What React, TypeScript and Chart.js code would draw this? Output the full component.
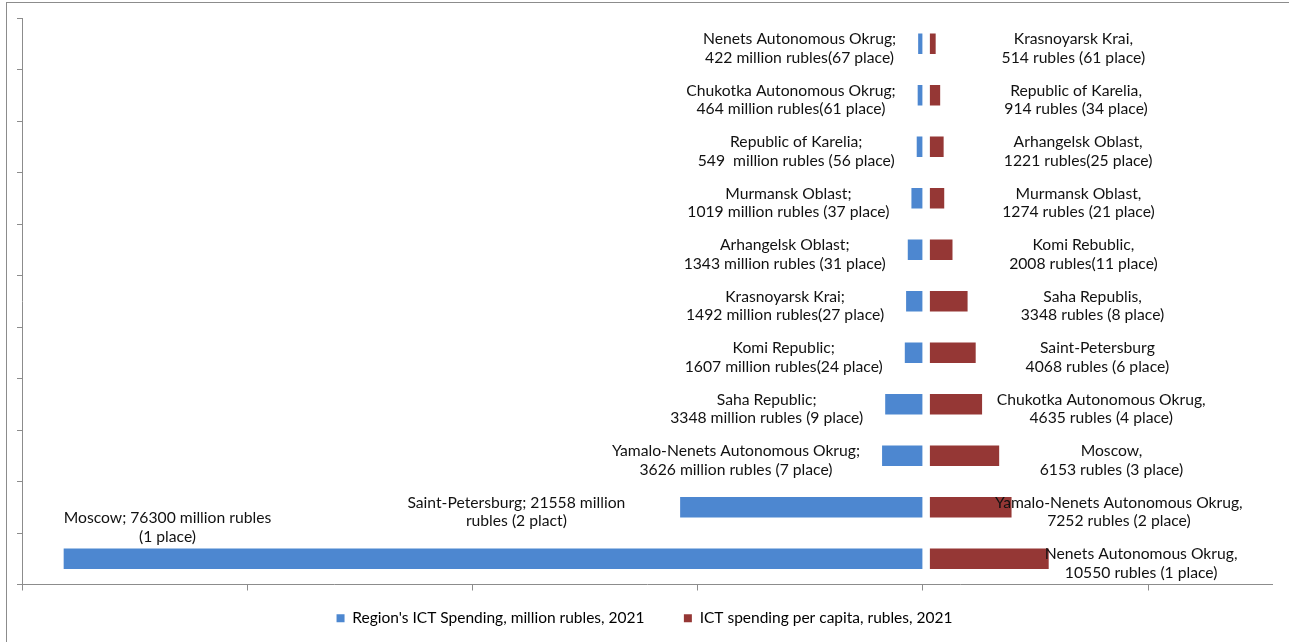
import React, { useEffect, useRef } from 'react';
import { Chart, registerables } from 'chart.js';

Chart.register(...registerables);

// ---------- data ----------
const spendRegions = [
  'Nenets Autonomous Okrug',
  'Chukotka Autonomous Okrug',
  'Republic of Karelia',
  'Murmansk Oblast',
  'Arhangelsk Oblast',
  'Krasnoyarsk Krai',
  'Komi Republic',
  'Saha Republic',
  'Yamalo-Nenets Autonomous Okrug',
  'Saint-Petersburg',
  'Moscow',
];
const spendValues = [422, 464, 549, 1019, 1343, 1492, 1607, 3348, 3626, 21558, 76300];
const spendLabels = [
  'Nenets Autonomous Okrug;\n422 million rubles(67 place)',
  'Chukotka Autonomous Okrug;\n464 million rubles(61 place)',
  'Republic of Karelia;\n549  million rubles (56 place)',
  'Murmansk Oblast;\n1019 million rubles (37 place)',
  'Arhangelsk Oblast;\n1343 million rubles (31 place)',
  'Krasnoyarsk Krai;\n1492 million rubles(27 place)',
  'Komi Republic;\n1607 million rubles(24 place)',
  'Saha Republic;\n3348 million rubles (9 place)',
  'Yamalo-Nenets Autonomous Okrug;\n3626 million rubles (7 place)',
  'Saint-Petersburg; 21558 million\nrubles (2 plact)',
  'Moscow; 76300 million rubles\n(1 place)',
];
const perCapitaValues = [514, 914, 1221, 1274, 2008, 3348, 4068, 4635, 6153, 7252, 10550];
const perCapitaLabels = [
  'Krasnoyarsk Krai,\n514 rubles (61 place)',
  'Republic of Karelia,\n914 rubles (34 place)',
  'Arhangelsk Oblast,\n1221 rubles(25 place)',
  'Murmansk Oblast,\n1274 rubles (21 place)',
  'Komi Rebublic,\n2008 rubles(11 place)',
  'Saha Republis,\n3348 rubles (8 place)',
  'Saint-Petersburg\n4068 rubles (6 place)',
  'Chukotka Autonomous Okrug,\n4635 rubles (4 place)',
  'Moscow,\n6153 rubles (3 place)',
  'Yamalo-Nenets Autonomous Okrug,\n7252 rubles (2 place)',
  'Nenets Autonomous Okrug,\n10550 rubles (1 place)',
];
const seriesNames = [
  "Region's ICT Spending, million rubles, 2021",
  'ICT spending per capita, rubles, 2021',
];
const axisTicks = [-80000, -60000, -40000, -20000, 0, 20000];

// ---------- style ----------
const FONT = 'Lato, "Open Sans", sans-serif';
const FONT_SIZE = 15.7;
const LINE_H = 18.5;
const TEXT_COLOR = '#111111';
const BLUE = '#4D87D0';
const RED = '#953735';
const AXIS = '#8c8c8c';
const RED_OFFSET = 620; // visual gap between the two series at zero
const LABEL_GAP = 22;

const labelPlugin = {
  id: 'barLabels',
  afterDatasetsDraw(chart: any) {
    const ctx = chart.ctx as CanvasRenderingContext2D;
    const area = chart.chartArea;
    const blue = chart.getDatasetMeta(0).data;
    const red = chart.getDatasetMeta(1).data;
    ctx.save();
    ctx.font = `${FONT_SIZE}px ${FONT}`;
    ctx.fillStyle = TEXT_COLOR;
    ctx.textAlign = 'center';
    ctx.textBaseline = 'middle';
    const drawBlock = (lines: string[], cx: number, cy: number) => {
      lines.forEach((l, k) => {
        ctx.fillText(l, cx, cy + (k - (lines.length - 1) / 2) * LINE_H);
      });
    };
    spendLabels.forEach((txt, i) => {
      const bar = blue[i];
      if (!bar) return;
      const lines = txt.split('\n');
      const w = Math.max(...lines.map((l) => ctx.measureText(l).width));
      const left = Math.min(bar.x, bar.base);
      const right = Math.max(bar.x, bar.base);
      if (left - LABEL_GAP - w < area.left) {
        const top = bar.y - bar.height / 2;
        drawBlock(lines, left + w / 2, top - 12 - ((lines.length - 1) * LINE_H) / 2);
      } else {
        // longer bars push their label further out
        const gap = LABEL_GAP + 0.18 * Math.max(0, right - left - 60);
        drawBlock(lines, left - gap - w / 2, bar.y + 4.5);
      }
    });
    perCapitaLabels.forEach((txt, i) => {
      const bar = red[i];
      if (!bar) return;
      const lines = txt.split('\n');
      const base = Math.min(bar.x, bar.base);
      const end = Math.max(bar.x, bar.base);
      const cx = base + 140 + 0.6 * (end - base);
      drawBlock(lines, cx, bar.y + 4.5);
    });
    ctx.restore();
  },
};

export default function App() {
  const ref = useRef<HTMLCanvasElement | null>(null);
  useEffect(() => {
    if (!ref.current) return;
    const chart = new Chart(ref.current, {
      type: 'bar',
      data: {
        labels: spendRegions,
        datasets: [
          {
            label: seriesNames[0],
            data: spendValues.map((v) => -v),
            backgroundColor: BLUE,
            grouped: false,
            categoryPercentage: 1,
            barPercentage: 0.4,
          } as any,
          {
            label: seriesNames[1],
            data: perCapitaValues.map((v) => [RED_OFFSET, RED_OFFSET + v]),
            backgroundColor: RED,
            grouped: false,
            categoryPercentage: 1,
            barPercentage: 0.4,
          } as any,
        ],
      },
      options: {
        indexAxis: 'y',
        responsive: false,
        animation: false,
        layout: { padding: { left: 17, right: 17, top: 18, bottom: 6 } },
        scales: {
          x: {
            type: 'linear',
            min: -80000,
            max: 31000,
            afterBuildTicks: (scale: any) => {
              scale.ticks = axisTicks.map((v) => ({ value: v }));
            },
            grid: { display: true, drawOnChartArea: false, drawTicks: true, tickLength: 6, color: AXIS },
            border: { display: true, color: AXIS, width: 1 },
            ticks: { display: false },
          },
          y: {
            type: 'category',
            offset: true,
            grid: { display: true, offset: true, drawOnChartArea: false, drawTicks: true, tickLength: 5, color: AXIS },
            border: { display: true, color: AXIS, width: 1 },
            ticks: { display: false },
          },
        },
        plugins: {
          tooltip: { enabled: false },
          legend: {
            position: 'bottom',
            labels: {
              boxWidth: 8,
              boxHeight: 8,
              padding: 20,
              color: TEXT_COLOR,
              font: { family: FONT, size: 15.5 },
              generateLabels: (c: any) =>
                c.data.datasets.map((ds: any, i: number) => ({
                  text: i === 0 ? ds.label + '\u2003\u2002' : ds.label,
                  fillStyle: ds.backgroundColor,
                  strokeStyle: ds.backgroundColor,
                  lineWidth: 0,
                  hidden: false,
                  datasetIndex: i,
                })),
            },
          },
        },
      },
      plugins: [labelPlugin],
    });
    return () => chart.destroy();
  }, []);

  return (
    <div style={{ position: 'fixed', left: 0, top: 0, width: 1289, height: 642, background: '#fff' }}>
      <div
        style={{
          position: 'absolute',
          left: 6,
          top: 2,
          right: 0,
          bottom: 0,
          borderLeft: `1px solid ${AXIS}`,
          borderTop: `1px solid ${AXIS}`,
        }}
      />
      <canvas ref={ref} width={1289} height={642} style={{ position: 'absolute', left: 0, top: 0, width: 1289, height: 642 }} />
    </div>
  );
}
